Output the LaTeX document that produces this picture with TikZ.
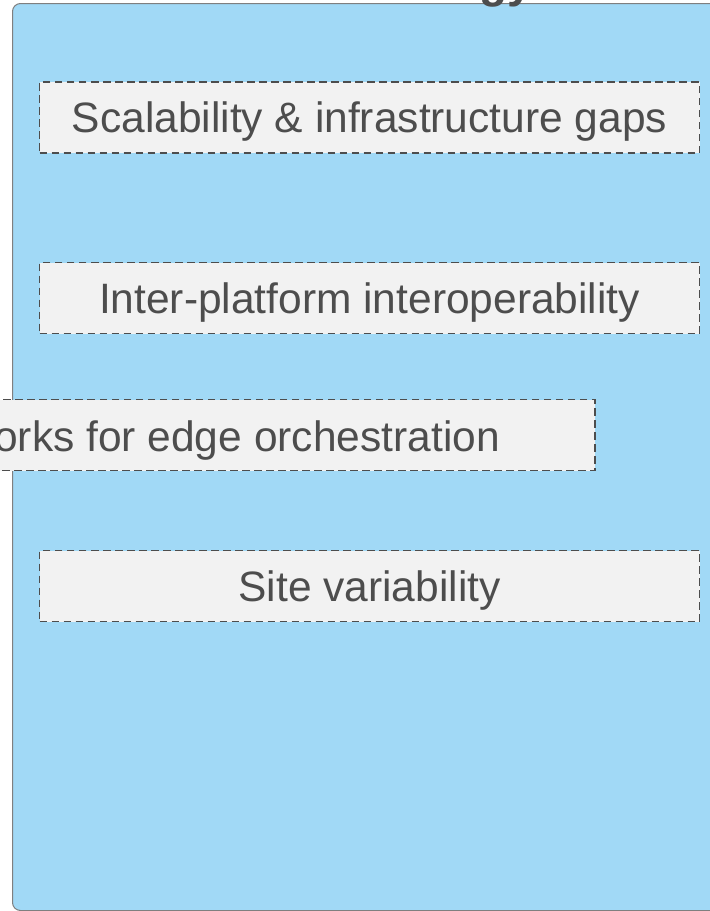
\documentclass[tikz,border=0pt]{standalone}
\usepackage{fontspec}
\setmainfont{Liberation Sans}
\definecolor{panelblue}{HTML}{A1D9F6}
\definecolor{panelrule}{HTML}{7F7F7F}
\definecolor{boxgray}{HTML}{F2F2F2}
\definecolor{dashgray}{HTML}{4D4D4D}
\definecolor{textgray}{HTML}{4D4D4D}
\begin{document}
\begin{tikzpicture}[x=1pt,y=-1pt,
  panel/.style={draw=panelrule, fill=panelblue, line width=1pt, rounded corners=8pt},
  gapbox/.style={draw=dashgray, fill=boxgray, line width=1.8pt,
    dash pattern=on 7.5pt off 4.5pt, minimum height=71pt, inner sep=0pt,
    text=textgray, font=\fontsize{42.5}{50}\selectfont,
    text height=30pt, text depth=0pt},
  gaptext/.style={text=textgray, font=\fontsize{42.5}{50}\selectfont, inner sep=0pt}]
\useasboundingbox (0,0) rectangle (710,911);

% outer panel and its heading
\draw[panel] (12.5,3.5) rectangle (740,910.5);
\node[anchor=base west, inner sep=0pt, text=textgray,
      font=\bfseries\fontsize{46}{50}\selectfont] (title) at (479,-3) {gy};

% gap boxes
\node[gapbox, minimum width=660pt] (scal) at (369.5,117.5)
  {Scalability \& infrastructure gaps};
\node[gapbox, minimum width=660pt] (inter) at (369.5,298)
  {Inter-platform interoperability};
\node[gapbox, minimum width=665pt] (orch) at (262.5,435) {};
\node[gaptext, anchor=base east] (orchtext) at (500,451)
  {orks for edge orchestration};
\node[gapbox, minimum width=660pt] (site) at (369.5,586)
  {Site variability};
\end{tikzpicture}
\end{document}
